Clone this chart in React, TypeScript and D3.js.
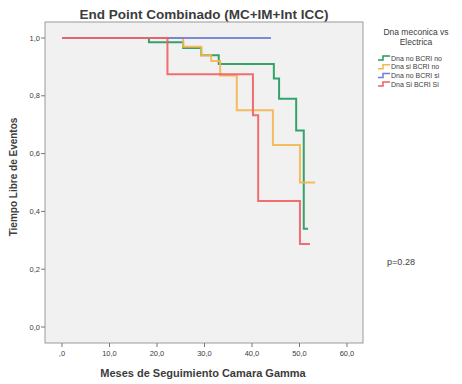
import React from "react";
import * as d3 from "d3";

const xTicks = [0, 10, 20, 30, 40, 50, 60];
const xTickLabels = [",0", "10,0", "20,0", "30,0", "40,0", "50,0", "60,0"];
const yTicks = [0, 0.2, 0.4, 0.6, 0.8, 1.0];
const yTickLabels = ["0,0", "0,2", "0,4", "0,6", "0,8", "1,0"];

const seriesNames = ["Dna no  BCRI no", "Dna si  BCRI no", "Dna no  BCRI si", "Dna Si BCRI Si"];
const seriesColors = ["#1f9a5c", "#f4b64e", "#6f7fd2", "#ef5f63"];

const greenTimes = [0, 18.3, 25.5, 29.3, 33.0, 44.6, 45.7, 49.3, 50.9];
const greenValues = [1, 0.985, 0.965, 0.94, 0.91, 0.86, 0.79, 0.68, 0.34];
const greenEnd = 51.8;

const orangeTimes = [0, 25.5, 29.3, 31.4, 33.3, 36.8, 44.4, 50.1];
const orangeValues = [1, 0.97, 0.94, 0.92, 0.87, 0.75, 0.63, 0.5];
const orangeEnd = 53.3;

const blueTimes = [0];
const blueValues = [1];
const blueEnd = 44.0;

const redTimes = [0, 22.2, 40.2, 41.3, 50.1];
const redValues = [1, 0.875, 0.733, 0.436, 0.287];
const redEnd = 52.2;

const allTimes = [greenTimes, orangeTimes, blueTimes, redTimes];
const allValues = [greenValues, orangeValues, blueValues, redValues];
const allEnds = [greenEnd, orangeEnd, blueEnd, redEnd];

export default function App() {
  const x = d3.scaleLinear().domain([0, 60]).range([62, 347]);
  const y = d3.scaleLinear().domain([0, 1]).range([327, 38]);
  const frame = { l: 45, r: 363, t: 22, b: 343 };
  const line = d3
    .line<[number, number]>()
    .x((d) => x(d[0]))
    .y((d) => y(d[1]))
    .curve(d3.curveStepAfter);

  const font = "'Liberation Sans', Arial, sans-serif";
  const textColor = "#3c3c3c";

  const paths = allTimes.map((ts, i) => {
    const pts: [number, number][] = ts.map((t, j) => [t, allValues[i][j]]);
    pts.push([allEnds[i], allValues[i][allValues[i].length - 1]]);
    return line(pts) as string;
  });

  return (
    <svg
      width={462}
      height={384}
      style={{ position: "absolute", left: 0, top: 0, background: "#fff" }}
      fontFamily={font}
    >
      <text x={204} y={19} textAnchor="middle" fontSize={13.5} fontWeight="bold" fill={textColor}>
        End Point Combinado (MC+IM+Int ICC)
      </text>
      <rect
        x={frame.l}
        y={frame.t}
        width={frame.r - frame.l}
        height={frame.b - frame.t}
        fill="#f1f1f1"
        stroke="#9a9a9a"
        strokeWidth={1}
      />
      {yTicks.map((v, i) => (
        <g key={"y" + i}>
          <line x1={frame.l - 4} x2={frame.l} y1={y(v)} y2={y(v)} stroke="#777" />
          <text x={frame.l - 5} y={y(v) + 2.5} textAnchor="end" fontSize={7.5} fill={textColor}>
            {yTickLabels[i]}
          </text>
        </g>
      ))}
      {xTicks.map((v, i) => (
        <g key={"x" + i}>
          <line x1={x(v)} x2={x(v)} y1={frame.b} y2={frame.b + 4} stroke="#777" />
          <text x={x(v)} y={frame.b + 13} textAnchor="middle" fontSize={7.5} fill={textColor}>
            {xTickLabels[i]}
          </text>
        </g>
      ))}
      <text
        x={203}
        y={377}
        textAnchor="middle"
        fontSize={11}
        fontWeight="bold"
        fill={textColor}
      >
        Meses de Seguimiento Camara Gamma
      </text>
      <text
        transform={`translate(17,177) rotate(-90)`}
        textAnchor="middle"
        fontSize={10}
        fontWeight="bold"
        fill={textColor}
      >
        Tiempo Libre de Eventos
      </text>
      {paths.map((d, i) => (
        <path key={"p" + i} d={d} fill="none" stroke={seriesColors[i]} strokeWidth={2} opacity={0.9} />
      ))}
      <text x={416} y={35} textAnchor="middle" fontSize={8.5} fill={textColor}>
        Dna meconica vs
      </text>
      <text x={416} y={45} textAnchor="middle" fontSize={8.5} fill={textColor}>
        Electrica
      </text>
      {seriesNames.map((n, i) => {
        const ly = 58 + i * 8.7;
        return (
          <g key={"l" + i}>
            <path
              d={`M378,${ly + 2}H383V${ly - 2}H390`}
              fill="none"
              stroke={seriesColors[i]}
              strokeWidth={1.5}
            />
            <text x={391} y={ly + 2.5} fontSize={7} fill={textColor}>
              {n}
            </text>
          </g>
        );
      })}
      <text x={401} y={265} textAnchor="middle" fontSize={9} fill={textColor}>
        p=0.28
      </text>
    </svg>
  );
}
